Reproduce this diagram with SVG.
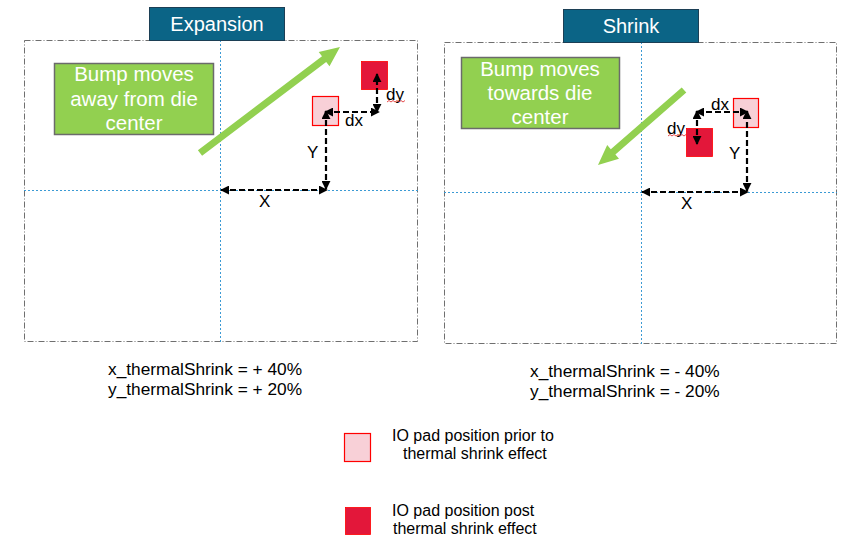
<svg xmlns="http://www.w3.org/2000/svg" width="847" height="550" viewBox="0 0 847 550">
<style>
  text { font-family: "Liberation Sans", Arial, sans-serif; }
  .frame { fill: none; stroke: #6f6f6f; stroke-width: 1; stroke-dasharray: 6 2 1 2; }
  .axis { fill: none; stroke: #3b9ad4; stroke-width: 1; stroke-dasharray: 2 2; }
  .title { fill: #0b6486; stroke: #1c3f55; stroke-width: 1; }
  .titletxt { fill: #ffffff; font-size: 20px; text-anchor: middle; }
  .note { fill: #92d050; stroke: #6b6b6b; stroke-width: 1.5; }
  .notetxt { fill: #ffffff; font-size: 20.5px; text-anchor: middle; }
  .bigarrow { fill: #92d050; stroke: none; }
  .prior { fill: #f8d0d7; stroke: #ff0000; stroke-width: 1.2; }
  .post { fill: #e3173a; stroke: #ff0000; stroke-width: 0.8; }
  .dim { fill: none; stroke: #000000; stroke-width: 2.2; stroke-dasharray: 6 3; marker-start: url(#ah); marker-end: url(#ah); }
  .lbl { fill: #000000; font-size: 17px; }
  .eq { fill: #000000; font-size: 17.3px; }
  .leg { fill: #000000; font-size: 16px; }
  .squig { fill: none; stroke: #e02020; stroke-width: 0.8; }
</style>
<defs>
  <marker id="ah" viewBox="0 0 10 10" refX="9" refY="5" markerWidth="9" markerHeight="9" markerUnits="userSpaceOnUse" orient="auto-start-reverse">
    <path d="M0,0 L10,5 L0,10 z" fill="#000000"/>
  </marker>
</defs>

<g id="expansion-panel">
  <rect class="frame" x="24.5" y="40.5" width="393" height="301"/>
  <line class="axis" x1="220.5" y1="40" x2="220.5" y2="342"/>
  <line class="axis" x1="24" y1="190.5" x2="418" y2="190.5"/>
</g>
<g id="expansion-title">
  <rect class="title" x="149.5" y="7.5" width="135" height="33"/>
  <text class="titletxt" x="217" y="31">Expansion</text>
</g>
<g id="expansion-note">
  <rect class="note" x="54.5" y="63.5" width="159" height="71"/>
  <text class="notetxt" x="134" y="81">Bump moves</text>
  <text class="notetxt" x="134" y="106">away from die</text>
  <text class="notetxt" x="134" y="130">center</text>
</g>
<g id="expansion-arrow">
  <polygon class="bigarrow" points="197.9,150.2 322.0,56.3 318.7,51.9 340,47 329.5,66.3 326.2,61.9 202.1,155.8"/>
</g>
<g id="expansion-prior-pad">
  <rect class="prior" x="312.5" y="96.5" width="26" height="29"/>
</g>
<g id="expansion-post-pad">
  <rect class="post" x="361.5" y="61.5" width="26" height="28"/>
</g>

<g id="shrink-panel">
  <rect class="frame" x="444.5" y="42.5" width="392" height="301"/>
  <line class="axis" x1="641.5" y1="42" x2="641.5" y2="344"/>
  <line class="axis" x1="444" y1="192.5" x2="837" y2="192.5"/>
</g>
<g id="shrink-title">
  <rect class="title" x="563.5" y="9.5" width="135" height="33"/>
  <text class="titletxt" x="631" y="33">Shrink</text>
</g>
<g id="shrink-note">
  <rect class="note" x="461.5" y="57.5" width="158" height="71"/>
  <text class="notetxt" x="540" y="76">Bump moves</text>
  <text class="notetxt" x="540" y="100">towards die</text>
  <text class="notetxt" x="540" y="124">center</text>
</g>
<g id="shrink-arrow">
  <polygon class="bigarrow" points="681.7,87.4 610.8,149.3 607.2,145.1 598,165 619.0,158.7 615.4,154.5 686.3,92.6"/>
</g>
<g id="shrink-prior-pad">
  <rect class="prior" x="733.5" y="98.5" width="25" height="29"/>
</g>
<g id="shrink-post-pad">
  <rect class="post" x="686.5" y="128.5" width="26" height="28"/>
</g>

<g id="connectors">
  <line class="dim" x1="221" y1="190" x2="327" y2="190"/>
  <line class="dim" x1="326" y1="189" x2="326" y2="111"/>
  <line class="dim" x1="325" y1="112" x2="379" y2="112"/>
  <line class="dim" x1="377" y1="112" x2="377" y2="74"/>
  <line class="dim" x1="642" y1="192" x2="748" y2="192"/>
  <line class="dim" x1="747" y1="191" x2="747" y2="111"/>
  <line class="dim" x1="748" y1="112" x2="696" y2="112"/>
  <line class="dim" x1="697" y1="111" x2="697" y2="144"/>
</g>

<g id="labels">
  <text class="lbl" x="345" y="126">dx</text>
  <text class="lbl" x="386" y="100">dy</text>
  <polyline class="squig" points="387,102 389,100.5 391,102 393,100.5 395,102 397,100.5 399,102 401,100.5 403,102 405,100.5"/>
  <text class="lbl" x="307" y="158">Y</text>
  <text class="lbl" x="259" y="207">X</text>
  <text class="lbl" x="711" y="110">dx</text>
  <text class="lbl" x="667" y="134">dy</text>
  <polyline class="squig" points="668,136 670,134.5 672,136 674,134.5 676,136 678,134.5 680,136 682,134.5 684,136 686,134.5"/>
  <text class="lbl" x="729" y="159">Y</text>
  <text class="lbl" x="681" y="209">X</text>
</g>

<g id="equations">
  <text class="eq" x="108" y="375">x_thermalShrink = + 40%</text>
  <text class="eq" x="108" y="395">y_thermalShrink = + 20%</text>
  <text class="eq" x="530" y="377">x_thermalShrink = - 40%</text>
  <text class="eq" x="530" y="397">y_thermalShrink = - 20%</text>
</g>

<g id="legend-prior">
  <rect class="prior" x="344.5" y="433.5" width="26" height="28"/>
  <text class="leg" x="392" y="441">IO pad position prior to</text>
  <text class="leg" x="403" y="459">thermal shrink effect</text>
</g>
<g id="legend-post">
  <rect class="post" x="345.5" y="507.5" width="25" height="27"/>
  <text class="leg" x="392" y="516">IO pad position post</text>
  <text class="leg" x="393" y="534">thermal shrink effect</text>
</g>
</svg>
